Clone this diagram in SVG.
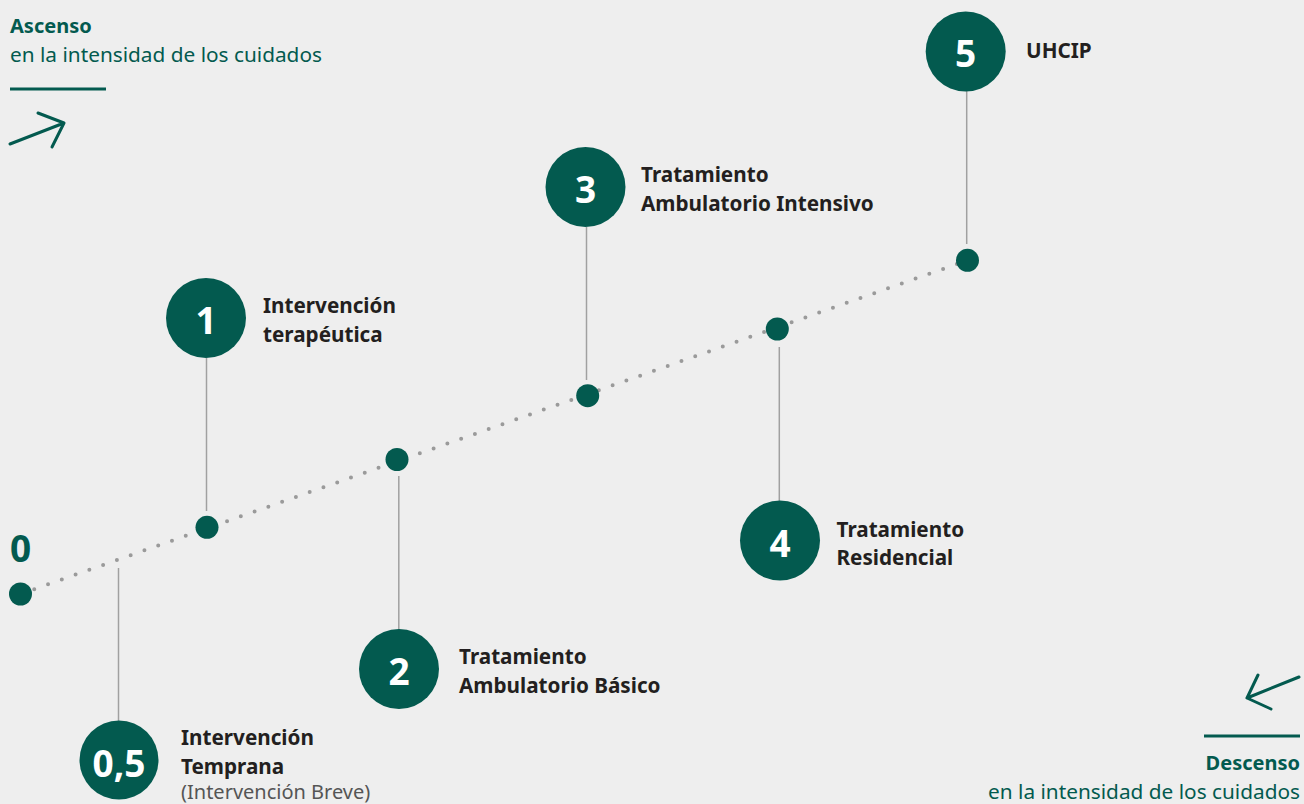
<svg xmlns="http://www.w3.org/2000/svg" width="1304" height="804" viewBox="0 0 1304 804">
  <style>
    .bg { fill: #eeeeee; }
    .badge { fill: #035a4f; }
    .joint { fill: #035a4f; }
    .num { font-family: "Noto Sans", "Open Sans", sans-serif; font-weight: 700; font-size: 37px; fill: #ffffff; text-anchor: middle; }
    .label { font-family: "Noto Sans", "Open Sans", sans-serif; font-weight: 700; font-size: 20.7px; fill: #231f20; }
    .note { font-family: "Noto Sans", "Open Sans", sans-serif; font-weight: 400; font-size: 20px; fill: #555555; }
    .head { font-family: "Noto Sans", "Open Sans", sans-serif; font-weight: 700; font-size: 20px; fill: #035a4f; }
    .sub { font-family: "Noto Sans", "Open Sans", sans-serif; font-weight: 400; font-size: 20.8px; fill: #035a4f; }
    .stem { stroke: #a0a0a0; stroke-width: 1.5; fill: none; }
    .track { stroke: #9a9a9a; stroke-width: 4; stroke-linecap: round; stroke-dasharray: 0 14.6; fill: none; }
    .arrow { stroke: #035a4f; stroke-width: 3; stroke-linecap: round; stroke-linejoin: round; fill: none; }
    .rule { stroke: #035a4f; stroke-width: 3; fill: none; }
  </style>

  <rect class="bg" x="0" y="0" width="1304" height="804"/>

  <!-- ascending legend, top left -->
  <g id="legend-up">
    <text class="head" x="10" y="33">Ascenso</text>
    <text class="sub" x="10" y="62">en la intensidad de los cuidados</text>
    <line class="rule" x1="10" y1="89" x2="106" y2="89"/>
    <path class="arrow" d="M10,144 L64,123 M38,113 L64,123 L52,147"/>
  </g>

  <!-- descending legend, bottom right -->
  <g id="legend-down">
    <path class="arrow" d="M1299,677 L1247,698 M1258,675 L1247,698 L1271,709"/>
    <line class="rule" x1="1204" y1="736" x2="1300" y2="736"/>
    <text class="head" x="1300" y="770" text-anchor="end">Descenso</text>
    <text class="sub" x="1300" y="799" text-anchor="end">en la intensidad de los cuidados</text>
  </g>

  <!-- connectors: dotted track and stems -->
  <g id="connectors">
    <line class="track" x1="20.5" y1="594" x2="967.5" y2="260.3"/>
    <line class="stem" x1="118.5" y1="568" x2="118.5" y2="721"/>
    <line class="stem" x1="206.5" y1="358" x2="206.5" y2="511"/>
    <line class="stem" x1="398.8" y1="476" x2="398.8" y2="630"/>
    <line class="stem" x1="586.5" y1="227" x2="586.5" y2="380"/>
    <line class="stem" x1="779.3" y1="347" x2="779.3" y2="501"/>
    <line class="stem" x1="966.7" y1="91" x2="966.7" y2="244"/>
  </g>

  <!-- joints on the track -->
  <g id="joints">
    <circle class="joint" cx="20.5" cy="594" r="11.5"/>
    <circle class="joint" cx="207" cy="527.3" r="11.5"/>
    <circle class="joint" cx="397" cy="459.5" r="11.5"/>
    <circle class="joint" cx="587.7" cy="395.7" r="11.5"/>
    <circle class="joint" cx="777.3" cy="329" r="11.5"/>
    <circle class="joint" cx="967.5" cy="260.3" r="11.5"/>
  </g>

  <g id="node-0">
    <text x="10" y="562" style="font-family:'Noto Sans','Open Sans',sans-serif;font-weight:700;font-size:37px;fill:#035a4f">0</text>
  </g>

  <g id="node-05">
    <circle class="badge" cx="119" cy="760" r="39.5"/>
    <text class="num" x="119" y="776.5">0,5</text>
    <text class="label" x="181" y="745">Intervención</text>
    <text class="label" x="181" y="774">Temprana</text>
    <text class="note" x="181" y="799">(Intervención Breve)</text>
  </g>

  <g id="node-1">
    <circle class="badge" cx="206" cy="318" r="40"/>
    <text class="num" x="206" y="334">1</text>
    <text class="label" x="263" y="313">Intervención</text>
    <text class="label" x="263" y="342">terapéutica</text>
  </g>

  <g id="node-2">
    <circle class="badge" cx="399" cy="669" r="40"/>
    <text class="num" x="399" y="685">2</text>
    <text class="label" x="459" y="664">Tratamiento</text>
    <text class="label" x="459" y="693">Ambulatorio Básico</text>
  </g>

  <g id="node-3">
    <circle class="badge" cx="585.5" cy="187" r="40"/>
    <text class="num" x="585.5" y="203">3</text>
    <text class="label" x="641" y="182">Tratamiento</text>
    <text class="label" x="641" y="211">Ambulatorio Intensivo</text>
  </g>

  <g id="node-4">
    <circle class="badge" cx="780" cy="540.5" r="40"/>
    <text class="num" x="780" y="556.5">4</text>
    <text class="label" x="836.5" y="537">Tratamiento</text>
    <text class="label" x="836.5" y="565">Residencial</text>
  </g>

  <g id="node-5">
    <circle class="badge" cx="965.7" cy="51.5" r="40"/>
    <text class="num" x="965.7" y="67">5</text>
    <text class="label" x="1026" y="58">UHCIP</text>
  </g>
</svg>
